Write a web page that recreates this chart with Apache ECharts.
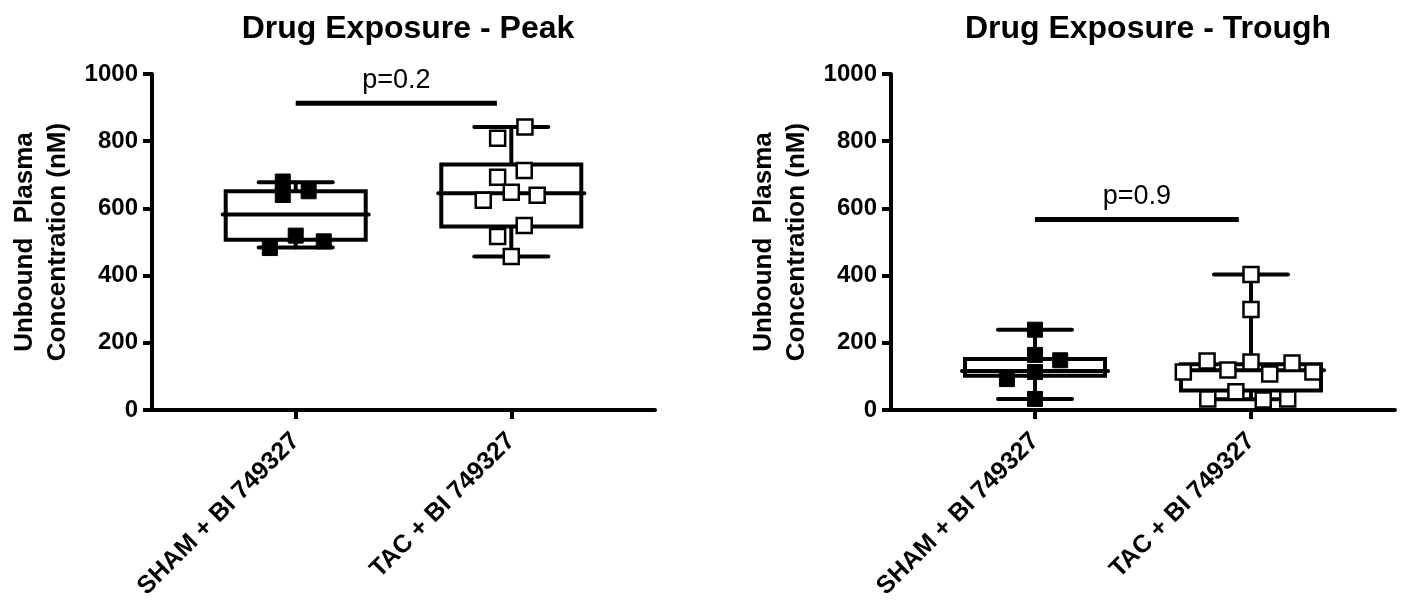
<!DOCTYPE html>
<html>
<head>
<meta charset="utf-8">
<script src="https://cdn.jsdelivr.net/npm/echarts@6/dist/echarts.min.js"></script>
<style>
  html, body { margin: 0; padding: 0; background: #fff; }
  #chart { width: 1406px; height: 602px; }
</style>
</head>
<body>
<div id="chart"></div>
<script>
// groups and where they sit on the 0..7 x scale
const groupNames = ['SHAM + BI 749327', 'TAC + BI 749327'];
const groupPos = [2, 5];
const xSpan = 7;

// peak: individual values and their horizontal jitter (x units)
const peakShamVals = [680, 640, 651, 519, 502, 482];
const peakShamJitter = [-0.18, -0.18, 0.18, 0, 0.39, -0.36];
const peakTacVals = [842, 809, 713, 693, 648, 639, 624, 549, 516, 457];
const peakTacJitter = [0.19, -0.19, 0.18, -0.19, 0, 0.36, -0.39, 0.18, -0.19, 0];

// trough
const troughShamVals = [239, 164, 148, 113, 92, 33];
const troughShamJitter = [0, 0, 0.35, 0, -0.39, 0];
const troughTacVals = [403, 299, 146, 113, 119, 143, 107, 140, 113, 33, 54, 30, 33];
const troughTacJitter = [0, 0, -0.61, -0.94, -0.32, 0, 0.26, 0.57, 0.86, -0.6, -0.21, 0.17, 0.51];

// box stats: min, q1, median, q3, max
const peakShamBox = [484, 507, 582, 651, 678];
const peakTacBox = [457, 546, 645, 731, 842];
const troughShamBox = [33, 102, 116, 152, 239];
const troughTacBox = [32, 58, 118, 136, 403];

// significance bars: x from, x to, y, label
const peakSig = [2, 4.8, 913, 'p=0.2'];
const troughSig = [2, 4.83, 567, 'p=0.9'];

const FONT = '"Liberation Sans", Arial, sans-serif';
const catLabels = [];
for (let i = 0; i <= xSpan; i++) {
  const g = groupPos.indexOf(i);
  catLabels.push(g >= 0 ? groupNames[g] : '');
}

const renderBox = (params, api) => {
  const x = api.value(0);
  const pMin = api.coord([x, api.value(1)]);
  const yQ1 = api.coord([x, api.value(2)])[1];
  const yMed = api.coord([x, api.value(3)])[1];
  const yQ3 = api.coord([x, api.value(4)])[1];
  const yMax = api.coord([x, api.value(5)])[1];
  const cx = pMin[0], yMin = pMin[1];
  const st = { stroke: '#000', lineWidth: 4, lineCap: 'round', fill: null };
  return {
    type: 'group',
    children: [
      { type: 'line', shape: { x1: cx, y1: yMax, x2: cx, y2: yQ3 }, style: st },
      { type: 'line', shape: { x1: cx, y1: yQ1, x2: cx, y2: yMin }, style: st },
      { type: 'line', shape: { x1: cx - 37, y1: yMax, x2: cx + 37, y2: yMax }, style: st },
      { type: 'line', shape: { x1: cx - 37, y1: yMin, x2: cx + 37, y2: yMin }, style: st },
      { type: 'rect', shape: { x: cx - 70, y: yQ3, width: 140, height: yQ1 - yQ3 },
        style: { stroke: '#000', lineWidth: 4, fill: '#fff' } },
      { type: 'line', shape: { x1: cx - 73, y1: yMed, x2: cx + 73, y2: yMed }, style: st }
    ]
  };
};

const renderSig = (params, api, label) => {
  const p1 = api.coord([api.value(0), api.value(2)]);
  const p2 = api.coord([api.value(1), api.value(2)]);
  return {
    type: 'group',
    children: [
      { type: 'line', shape: { x1: p1[0], y1: p1[1], x2: p2[0], y2: p2[1] },
        style: { stroke: '#000', lineWidth: 5 } },
      { type: 'text', x: (p1[0] + p2[0]) / 2, y: p1[1] - 9,
        style: { text: label, fill: '#000', font: '27px ' + FONT,
          align: 'center', verticalAlign: 'bottom' } }
    ]
  };
};

const points = (vals, jitter, pos) => vals.map((v, i) => [pos + jitter[i], v]);

const makeAxes = (gi) => ({
  x: [
    {
      type: 'category', gridIndex: gi, data: catLabels, boundaryGap: false,
      axisLine: { lineStyle: { color: '#000', width: 4 } },
      axisTick: { length: 9, lineStyle: { color: '#000', width: 4 },
        interval: (i, v) => v !== '' },
      axisLabel: { interval: (i, v) => v !== '', rotate: 45, margin: 27,
        color: '#000', fontFamily: FONT, fontWeight: 'bold', fontSize: 25 },
      splitLine: { show: false }
    },
    { type: 'value', gridIndex: gi, min: 0, max: xSpan, show: false }
  ],
  y: {
    type: 'value', gridIndex: gi, min: 0, max: 1000, interval: 200,
    name: 'Unbound  Plasma\nConcentration (nM)', nameLocation: 'middle', nameGap: 78,
    nameTextStyle: { color: '#000', fontFamily: FONT, fontWeight: 'bold', fontSize: 26, lineHeight: 33 },
    axisLine: { show: true, lineStyle: { color: '#000', width: 4 } },
    axisTick: { show: true, length: 9, lineStyle: { color: '#000', width: 4 } },
    axisLabel: { margin: 14, color: '#000', fontFamily: FONT, fontWeight: 'bold', fontSize: 24,
      formatter: (v) => String(v) },
    splitLine: { show: false }
  }
});

const a0 = makeAxes(0), a1 = makeAxes(1);

const boxSeries = (xi, yi, stats, pos) => ({
  type: 'custom', xAxisIndex: xi, yAxisIndex: yi, renderItem: renderBox, z: 2,
  data: [[pos].concat(stats)], silent: true
});
const scatter = (xi, yi, data, filled) => ({
  type: 'scatter', xAxisIndex: xi, yAxisIndex: yi, data: data, z: 3,
  symbol: 'rect', symbolSize: 15,
  itemStyle: filled ? { color: '#000', borderColor: '#000', borderWidth: 1, opacity: 1 }
    : { color: '#fff', borderColor: '#000', borderWidth: 2.5, opacity: 1 },
  silent: true
});
const sigSeries = (xi, yi, sig) => ({
  type: 'custom', xAxisIndex: xi, yAxisIndex: yi, z: 4, silent: true,
  renderItem: (params, api) => renderSig(params, api, sig[3]),
  data: [[sig[0], sig[1], sig[2]]]
});

const chart = echarts.init(document.getElementById('chart'));
chart.setOption({
  animation: false,
  backgroundColor: '#fff',
  title: [
    { text: 'Drug Exposure - Peak', left: 403, top: 8, textAlign: 'center',
      textStyle: { color: '#000', fontFamily: FONT, fontWeight: 'bold', fontSize: 32 } },
    { text: 'Drug Exposure - Trough', left: 1143, top: 8, textAlign: 'center',
      textStyle: { color: '#000', fontFamily: FONT, fontWeight: 'bold', fontSize: 32 } }
  ],
  grid: [
    { left: 152, top: 74, width: 503, height: 336, outerBoundsMode: 'none' },
    { left: 891, top: 74, width: 504, height: 336, outerBoundsMode: 'none' }
  ],
  xAxis: a0.x.concat(a1.x),
  yAxis: [a0.y, a1.y],
  series: [
    boxSeries(1, 0, peakShamBox, groupPos[0]),
    boxSeries(1, 0, peakTacBox, groupPos[1]),
    scatter(1, 0, points(peakShamVals, peakShamJitter, groupPos[0]), true),
    scatter(1, 0, points(peakTacVals, peakTacJitter, groupPos[1]), false),
    sigSeries(1, 0, peakSig),
    boxSeries(3, 1, troughShamBox, groupPos[0]),
    boxSeries(3, 1, troughTacBox, groupPos[1]),
    scatter(3, 1, points(troughShamVals, troughShamJitter, groupPos[0]), true),
    scatter(3, 1, points(troughTacVals, troughTacJitter, groupPos[1]), false),
    sigSeries(3, 1, troughSig)
  ]
});
</script>
</body>
</html>
